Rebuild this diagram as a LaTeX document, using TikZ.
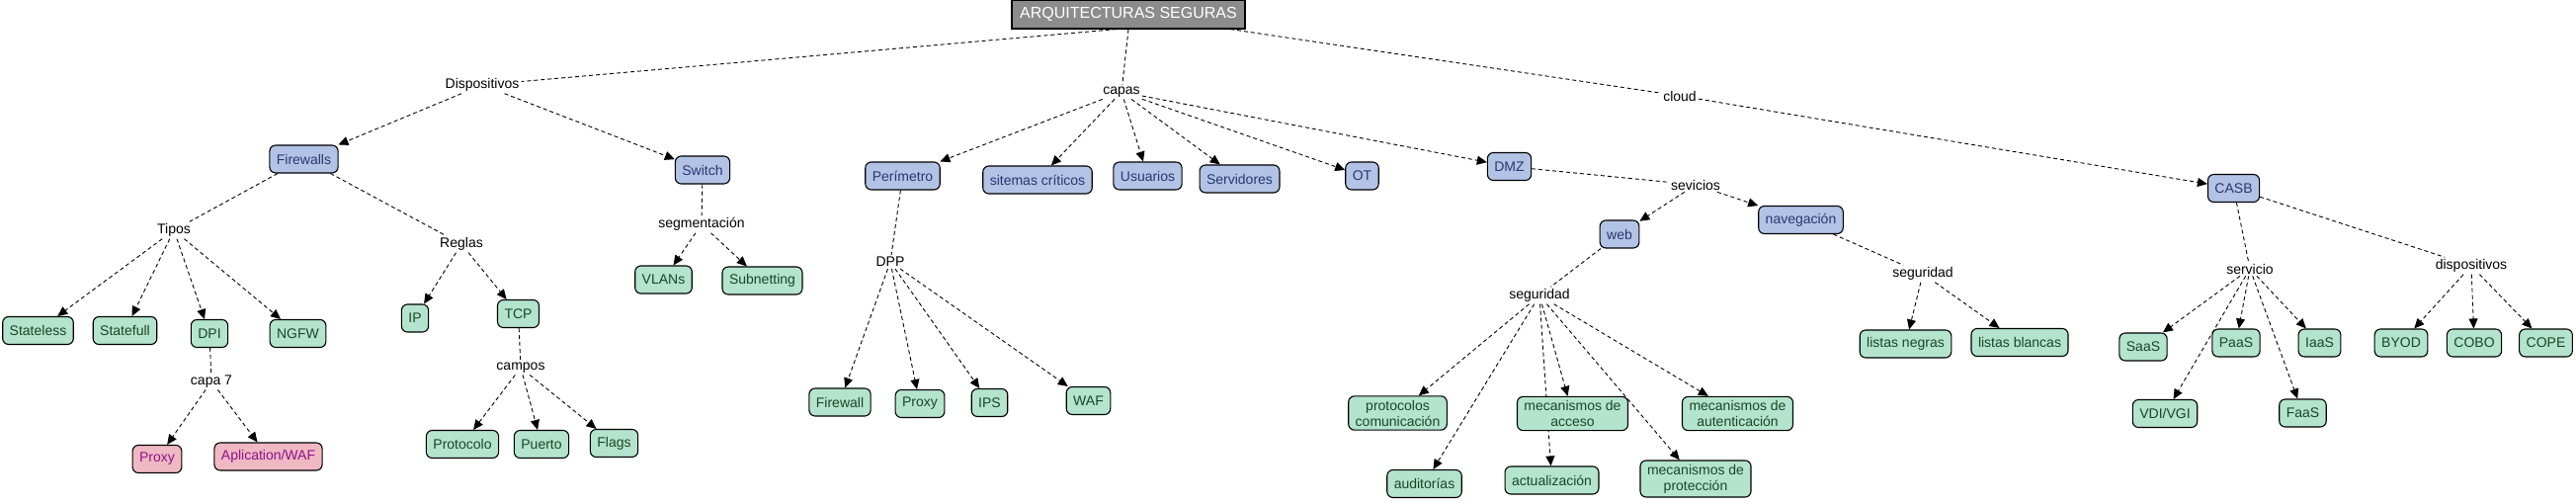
\documentclass[tikz,border=0pt]{standalone}
\usepackage{fontspec}
\setmainfont{Liberation Sans}
\usetikzlibrary{arrows.meta,backgrounds}
\definecolor{bfill}{RGB}{179,195,230}
\definecolor{btext}{RGB}{40,55,110}
\definecolor{gfill}{RGB}{180,228,205}
\definecolor{gtext}{RGB}{25,70,40}
\definecolor{pfill}{RGB}{240,184,194}
\definecolor{ptext}{RGB}{140,20,140}
\definecolor{rfill}{RGB}{140,140,140}
\tikzset{
  every node/.style={font=\fontsize{14}{16}\selectfont},
  lbl/.style={inner sep=2pt},
  box/.style={draw=black, line width=1.1pt, rounded corners=6pt, minimum height=28pt, inner xsep=7pt, inner ysep=4pt, align=center},
  bbox/.style={box, fill=bfill, text=btext},
  gbox/.style={box, fill=gfill, text=gtext},
  pbox/.style={box, fill=pfill, text=ptext},
  rootbox/.style={draw=black, line width=1.1pt, fill=rfill, text=white, minimum height=29pt, minimum width=236pt, font=\fontsize{16}{18}\selectfont},
  link/.style={draw=black, line width=0.9pt, dash pattern=on 4pt off 3pt},
  arr/.style={link, -{Triangle[length=10pt,width=9pt]}},
}
\begin{document}
\begin{tikzpicture}[x=1pt,y=-1pt]
\useasboundingbox (0,0) rectangle (2607,510);
% root
\node[rootbox] (root) at (1142,14.5) {ARQUITECTURAS SEGURAS};
% labels
\node[lbl] (disp) at (488,86) {Dispositivos};
\node[lbl] (tipos) at (176,233) {Tipos};
\node[lbl] (reglas) at (467,247) {Reglas};
\node[lbl] (segm) at (710,227) {segmentación};
\node[lbl] (capa7) at (214,386) {capa 7};
\node[lbl] (campos) at (527,372) {campos};
\node[lbl] (capas) at (1135,93) {capas};
\node[lbl] (cloud) at (1700,97) {cloud};
\node[lbl] (dpp) at (901,265) {DPP};
\node[lbl] (sevicios) at (1716,187) {sevicios};
\node[lbl] (segA) at (1558,299) {seguridad};
\node[lbl] (segB) at (1946,277) {seguridad};
\node[lbl] (servicio) at (2277,272) {servicio};
\node[lbl] (dispo) at (2501,269) {dispositivos};
% blue boxes
\node[bbox] (firewalls) at (307.5,161) {Firewalls};
\node[bbox] (switch) at (711,172) {Switch};
\node[bbox] (perimetro) at (913.5,178) {Perímetro};
\node[bbox] (sitemas) at (1050,182) {sitemas críticos};
\node[bbox] (usuarios) at (1161.5,178) {Usuarios};
\node[bbox] (servidores) at (1254.5,181) {Servidores};
\node[bbox] (ot) at (1378.5,178) {OT};
\node[bbox] (dmz) at (1527.5,168.5) {DMZ};
\node[bbox] (web) at (1639,237) {web};
\node[bbox] (naveg) at (1822.5,222.5) {navegación};
\node[bbox] (casb) at (2260.5,190.5) {CASB};
% green boxes
\node[gbox] (stateless) at (38.5,334.5) {Stateless};
\node[gbox] (statefull) at (126.5,334.5) {Statefull};
\node[gbox] (dpi) at (212,337.5) {DPI};
\node[gbox] (ngfw) at (301.5,337.5) {NGFW};
\node[gbox] (ip) at (420,322) {IP};
\node[gbox] (tcp) at (524.5,317.5) {TCP};
\node[gbox] (protocolo) at (468,449.5) {Protocolo};
\node[gbox] (puerto) at (548,449.5) {Puerto};
\node[gbox] (flags) at (621.5,448.5) {Flags};
\node[gbox] (vlans) at (671.5,283) {VLANs};
\node[gbox] (subnet) at (771.5,284) {Subnetting};
\node[gbox] (fw2) at (850,407) {Firewall};
\node[gbox] (proxy2) at (931,408.5) {Proxy};
\node[gbox] (ips) at (1001.5,407.5) {IPS};
\node[gbox] (waf) at (1101.5,405.5) {WAF};
\node[gbox] (protocolos) at (1414.5,418) {protocolos\\comunicación};
\node[gbox] (macceso) at (1591.5,418.5) {mecanismos de\\acceso};
\node[gbox] (mautent) at (1758.5,418.5) {mecanismos de\\autenticación};
\node[gbox] (auditorias) at (1441.5,489.5) {auditorías};
\node[gbox] (actualiz) at (1570.5,486) {actualización};
\node[gbox] (mprotec) at (1716,484.5) {mecanismos de\\protección};
\node[gbox] (negras) at (1928.5,348) {listas negras};
\node[gbox] (blancas) at (2044,346.5) {listas blancas};
\node[gbox] (saas) at (2169,351) {SaaS};
\node[gbox] (paas) at (2263,347) {PaaS};
\node[gbox] (iaas) at (2347.5,347) {IaaS};
\node[gbox] (vdi) at (2191,418.5) {VDI/VGI};
\node[gbox] (faas) at (2330.5,418) {FaaS};
\node[gbox] (byod) at (2430,347) {BYOD};
\node[gbox] (cobo) at (2504,347) {COBO};
\node[gbox] (cope) at (2576.5,347) {COPE};
% pink boxes
\node[pbox] (proxy1) at (159,464.5) {Proxy};
\node[pbox] (appwaf) at (271.5,462) {Aplication/WAF};
% connectors
\begin{scope}[on background layer]
\fill[white] (0,0) rectangle (2607,510);
\draw[link] ([xshift=-12pt]root.south) -- (disp);
\draw[link] (root.south) -- (capas);
\draw[link] ([xshift=103pt]root.south) -- (cloud);
\draw[arr] (disp) -- (firewalls);
\draw[arr] (disp) -- (switch);
\draw[link] (firewalls) -- (tipos);
\draw[link] (firewalls) -- (reglas);
\draw[arr] (tipos) -- (stateless);
\draw[arr] (tipos) -- (statefull);
\draw[arr] (tipos) -- (dpi);
\draw[arr] (tipos) -- (ngfw);
\draw[link] (dpi) -- (capa7);
\draw[arr] (capa7) -- (proxy1);
\draw[arr] (capa7) -- (appwaf);
\draw[arr] (reglas) -- (ip);
\draw[arr] (reglas) -- (tcp);
\draw[link] (tcp) -- (campos);
\draw[arr] (campos) -- (protocolo);
\draw[arr] (campos) -- (puerto);
\draw[arr] (campos) -- (flags);
\draw[link] (switch) -- (segm);
\draw[arr] (segm) -- (vlans);
\draw[arr] (segm) -- (subnet);
\draw[arr] (capas) -- (perimetro);
\draw[arr] (capas) -- (sitemas);
\draw[arr] (capas) -- (usuarios);
\draw[arr] (capas) -- (servidores);
\draw[arr] (capas) -- (ot);
\draw[arr] (capas) -- (dmz);
\draw[link] (perimetro) -- (dpp);
\draw[arr] (dpp) -- (fw2);
\draw[arr] (dpp) -- (proxy2);
\draw[arr] (dpp) -- (ips);
\draw[arr] (dpp) -- (waf);
\draw[link] (dmz) -- (sevicios);
\draw[arr] (sevicios) -- (web);
\draw[arr] (sevicios) -- (naveg);
\draw[link] (web) -- (segA);
\draw[arr] (segA) -- (protocolos);
\draw[arr] (segA) -- (auditorias);
\draw[arr] (segA) -- (macceso);
\draw[arr] (segA) -- (actualiz);
\draw[arr] (segA) -- (mprotec);
\draw[arr] (segA) -- (mautent);
\draw[link] (naveg) -- (segB);
\draw[arr] (segB) -- (negras);
\draw[arr] (segB) -- (blancas);
\draw[arr] (cloud) -- (casb);
\draw[link] (casb) -- (servicio);
\draw[link] (casb) -- (dispo);
\draw[arr] (servicio) -- (saas);
\draw[arr] (servicio) -- (paas);
\draw[arr] (servicio) -- (iaas);
\draw[arr] (servicio) -- (vdi);
\draw[arr] (servicio) -- (faas);
\draw[arr] (dispo) -- (byod);
\draw[arr] (dispo) -- (cobo);
\draw[arr] (dispo) -- (cope);
\end{scope}
\end{tikzpicture}
\end{document}
